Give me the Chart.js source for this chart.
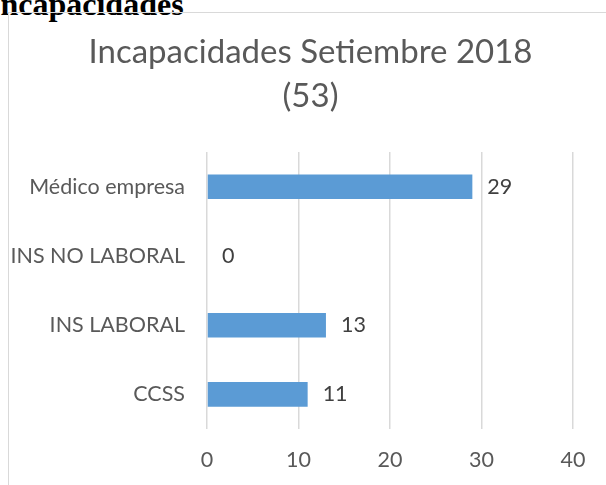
<!DOCTYPE html>
<html>
<head>
<meta charset="utf-8">
<script src="https://cdn.jsdelivr.net/npm/chart.js@4/dist/chart.umd.min.js"></script>
<style>
  html, body { margin: 0; padding: 0; background: #fff; }
  body { width: 606px; height: 485px; position: relative; overflow: hidden; }
  #heading {
    position: absolute; left: -12px; top: -14px;
    font: bold 32px "Liberation Serif", "Times New Roman", serif;
    color: #000; line-height: 36px; white-space: nowrap;
  }
  #frame {
    position: absolute; left: 8px; top: 12px; right: 0; bottom: 0;
    border-left: 1px solid #d9d9d9; border-top: 1px solid #d9d9d9;
  }
  #wrap { position: absolute; left: 0; top: 0; width: 606px; height: 485px; }
</style>
</head>
<body>
<div id="heading">Incapacidades</div>
<div id="frame"></div>
<div id="wrap"><canvas id="graph"></canvas></div>
<script>
// chart data
const CATEGORIES = ['Médico empresa', 'INS NO LABORAL', 'INS LABORAL', 'CCSS']
const COUNTS = [29, 0, 13, 11]
const TITLE_LINES = ['Incapacidades Setiembre 2018', '(53)']
const X_TICKS = [0, 10, 20, 30, 40]

const FONT = 'Lato, "Open Sans", sans-serif'
const BAR_COLOUR = '#5b9bd5'

/**
 * Writes the value just past the end of every bar.
 */
const valueLabels = {
  id: 'valueLabels',
  afterDatasetsDraw(chart) {
    const ctx = chart.ctx
    ctx.save()
    ctx.font = '21.5px ' + FONT
    ctx.fillStyle = '#404040'
    ctx.textAlign = 'left'
    ctx.textBaseline = 'middle'
    chart.getDatasetMeta(0).data.forEach((bar, i) => {
      ctx.fillText(String(COUNTS[i]), bar.x + 15, bar.y)
    })
    ctx.restore()
  },
}

/**
 * Centre the title on the framed box rather than on the chart's padded width.
 */
const titleCentre = {
  id: 'titleCentre',
  afterLayout(chart) {
    if (chart.titleBlock) {
      chart.titleBlock.left = 15
      chart.titleBlock.right = chart.width
    }
  },
}

const ctx = document.getElementById('graph').getContext('2d')

new Chart(ctx, {
  type: 'bar',
  data: {
    labels: CATEGORIES,
    datasets: [{
      data: COUNTS,
      backgroundColor: BAR_COLOUR,
      borderWidth: 0,
      categoryPercentage: 1,
      barPercentage: 0.355,
    }],
  },
  options: {
    indexAxis: 'y',
    responsive: true,
    maintainAspectRatio: false,
    animation: false,
    layout: { padding: { left: 0, right: 33, top: 0, bottom: 12 } },
    plugins: {
      legend: { display: false },
      tooltip: { enabled: false },
      title: {
        display: true,
        text: TITLE_LINES,
        color: '#595959',
        font: { family: FONT, size: 33, weight: 'normal', lineHeight: 1.35 },
        padding: { top: 30, bottom: 33 },
      },
    },
    scales: {
      x: {
        min: X_TICKS[0],
        max: X_TICKS[X_TICKS.length - 1],
        afterBuildTicks: (scale) => { scale.ticks = X_TICKS.map((v) => ({ value: v })) },
        afterFit: (scale) => { scale.height = 44 },
        grid: { color: '#d9d9d9', lineWidth: 1.5, drawTicks: false },
        border: { display: false },
        ticks: { color: '#595959', padding: 18, font: { family: FONT, size: 21.5 } },
      },
      y: {
        afterFit: (scale) => { scale.width = 207 },
        grid: { display: false, drawTicks: false },
        border: { display: false },
        ticks: { color: '#595959', padding: 22, font: { family: FONT, size: 21.5 } },
      },
    },
  },
  plugins: [valueLabels, titleCentre],
})
</script>
</body>
</html>
